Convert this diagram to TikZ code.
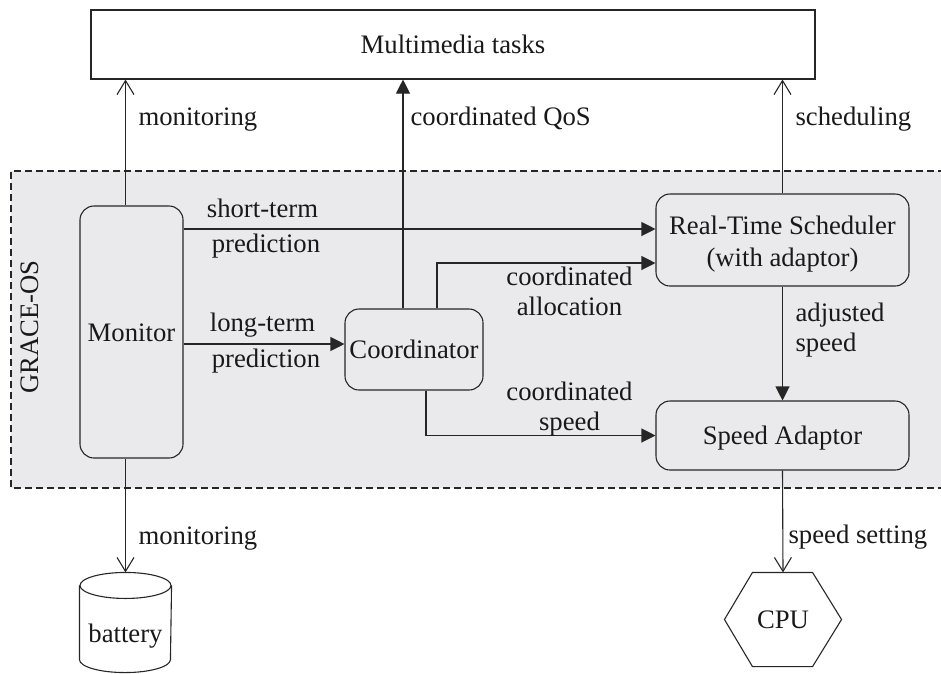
\documentclass[tikz,border=0pt]{standalone}
\usepackage{fontspec}
\setmainfont{Liberation Serif}
\usetikzlibrary{arrows.meta}
\definecolor{ink}{HTML}{262626}
\definecolor{osfill}{HTML}{EAEAEC}
\begin{document}
\begin{tikzpicture}[x=1pt, y=-1pt, line width=1.1pt, color=ink,
  every node/.style={font=\fontsize{26.7}{29.5}\selectfont, inner sep=0pt, text=black!90},
  rbox/.style={draw, rounded corners=14pt},
  box/.style={rbox, text height=18pt, text depth=0pt},
  plainbox/.style={draw, text height=18pt, text depth=0pt},
  openarrow/.style={-{Straight Barb[length=14pt,width=17pt]}},
  solidarrow/.style={-{Triangle[length=14pt,width=14pt]}},
  osframe/.style={dash pattern=on 7pt off 4pt, line width=1.2pt}]

\useasboundingbox (0,0) rectangle (941,673);

% GRACE-OS layer
\fill[osfill] (11,171) rectangle (945,488);
\draw[osframe] (945,171) -- (11,171) -- (11,488) -- (945,488);
\node[rotate=90, anchor=base] (gos) at (38,327) {GRACE-OS};

% blocks
\node[plainbox, fill=white, minimum width=724pt, minimum height=69pt] (tasks) at (453,44.5) {Multimedia tasks};
\node[box, minimum width=103pt, minimum height=252pt] (monitor) at (131.5,332) {Monitor};
\node[box, minimum width=138pt, minimum height=81pt] (coord) at (414,349.5) {Coordinator};
% two centred lines, box baseline on the first line
\node[rbox, minimum width=253pt, minimum height=92pt, text height=18pt, text depth=30pt] (rts) at (782.5,240)
  {\vtop{\baselineskip=32pt\halign{\hfil#\hfil\cr Real-Time Scheduler\cr (with adaptor)\cr}}};
\node[box, minimum width=253pt, minimum height=69pt] (sa) at (782.5,435.5) {Speed Adaptor};

% battery cylinder
\node[minimum width=91pt, minimum height=99pt, text height=39pt, text depth=0pt] (battery) at (125.5,622.5) {battery};
\draw ([yshift=-13pt]battery.north) ellipse [x radius=45.5pt, y radius=13pt];
\draw ([yshift=-13pt]battery.north west) -- ([yshift=13pt]battery.south west)
  arc[start angle=180, end angle=360, x radius=45.5pt, y radius=13pt]
  -- ([yshift=-13pt]battery.north east);

% CPU hexagon
\node[minimum width=116pt, minimum height=93pt, text height=18pt, text depth=0pt] (cpu) at (783,619.5) {CPU};
\draw (cpu.west) -- ([xshift=28pt]cpu.north west) -- ([xshift=-29pt]cpu.north east)
  -- (cpu.east) -- ([xshift=-29pt]cpu.south east) -- ([xshift=28pt]cpu.south west) -- cycle;

% connector end points
\coordinate (stin) at ([yshift=11pt]rts.west);
\coordinate (ltin) at ([yshift=5.5pt]coord.west);
\coordinate (qos) at ([xshift=-11pt]coord.north);
\coordinate (alout) at ([xshift=23pt]coord.north);
\coordinate (alin) at ([yshift=-23pt]rts.west);
\coordinate (spout) at ([xshift=12pt]coord.south);

% connectors
\draw[openarrow] (monitor.north -| battery.north) -- (tasks.south -| battery.north);
\draw[openarrow] (monitor.south -| battery.north) -- (battery.north);
\draw[solidarrow] (stin -| monitor.east) -- (stin);
\draw[solidarrow] (ltin -| monitor.east) -- (ltin);
\draw[solidarrow] (qos) -- (qos |- tasks.south);
\draw[solidarrow] (alout) |- (alin);
\draw[solidarrow] (spout) |- (sa.west);
\draw[solidarrow] (rts.south) -- (sa.north);
\draw[openarrow] (rts.north) -- (rts.north |- tasks.south);
\draw[openarrow] (sa.south) -- (cpu.north);

% connector labels
\node[anchor=base west] (lmon1) at (138,125) {monitoring};
\node[anchor=base west] (lqos) at (410,125) {coordinated QoS};
\node[anchor=base west] (lsch) at (795,125) {scheduling};
\node[anchor=base] (lst1) at (262.5,217) {short-term};
\node[anchor=base] (lst2) at (266,252) {prediction};
\node[anchor=base] (llt1) at (262.5,331) {long-term};
\node[anchor=base] (llt2) at (266,367) {prediction};
\node[align=center] (lalloc) at (569.5,291.5) {coordinated\\allocation};
\node[align=center] (lcspd) at (569.5,409) {coordinated\\speed};
\node[align=left, anchor=west] (ladj) at (795,330) {adjusted\\speed};
\node[anchor=base west] (lmon2) at (138,544) {monitoring};
\node[anchor=base west] (lset) at (788,543) {speed setting};
\end{tikzpicture}
\end{document}
